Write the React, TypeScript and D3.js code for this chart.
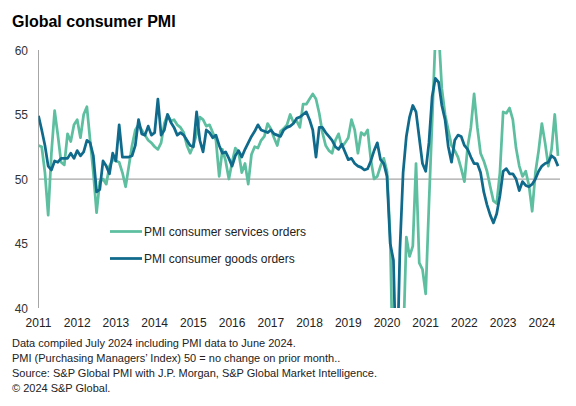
import { useEffect, useRef } from 'react'
import * as d3 from 'd3'

// Monthly readings, Jan 2011 .. Jun 2024 (162 months)
const START_YEAR = 2011
const YEAR_LABELS = ['2011', '2012', '2013', '2014', '2015', '2016', '2017', '2018', '2019', '2020', '2021', '2022', '2023', '2024']
const Y_TICKS = [40, 45, 50, 55, 60]

const SERVICES = [
  52.6, 52.5, 50.5, 47.2, 52.0, 55.3, 53.4, 51.3, 51.1, 53.5, 52.9, 54.2,
  54.6, 53.2, 55.0, 55.6, 53.0, 50.5, 47.4, 49.8, 50.0, 49.6, 51.0, 51.5,
  51.4, 51.3, 50.5, 49.4, 51.0, 52.6, 53.8, 54.2, 53.8, 53.4, 53.0, 52.8,
  52.5, 52.3, 52.8, 54.3, 55.0, 54.5, 54.6, 54.2, 54.0, 53.6, 52.6, 52.0,
  52.6, 53.5, 54.8, 54.6, 54.1, 54.2, 53.6, 53.0, 50.2, 52.3, 51.4, 50.0,
  51.3, 52.4, 52.1, 50.5, 51.2, 49.6, 51.9, 52.5, 52.4, 53.0, 53.3, 54.3,
  53.9, 53.2, 52.6, 53.7, 53.9, 54.2, 55.0, 54.4, 54.5, 54.0, 55.8, 55.8,
  56.2, 56.6, 56.2, 55.1, 53.6, 52.6, 52.2, 52.0, 53.0, 53.5, 52.5, 52.8,
  53.2, 54.6, 53.8, 52.0, 53.6, 53.4, 53.8, 51.5, 50.0, 50.2, 51.0, 51.6,
  50.6, 45.5, 33.0, 25.0, 30.0, 37.0, 45.5, 44.0, 44.8, 51.2, 43.5, 43.0,
  41.1, 48.0, 54.5, 61.0, 61.5, 57.0, 55.0, 53.8, 52.6, 52.2, 51.7, 50.8,
  49.8, 52.5, 54.0, 56.6, 54.0, 52.0, 51.4, 50.6, 49.4, 48.3, 48.1, 50.5,
  55.2, 55.1, 55.5, 54.6, 52.4, 51.0, 50.2, 50.6, 49.5, 47.5, 50.5, 52.2,
  54.3, 52.8, 51.0, 52.3, 55.0, 51.8,
]

const GOODS = [
  54.9, 53.8, 52.6, 51.0, 50.7, 51.4, 51.3, 51.6, 51.6, 51.6, 52.0, 51.6,
  52.2, 51.8, 52.1, 53.0, 52.8, 51.8, 49.0, 49.2, 51.4, 51.0, 50.4, 52.0,
  51.4, 54.2, 51.7, 51.7, 51.7, 51.8, 52.6, 54.6, 53.5, 53.4, 54.1, 53.4,
  53.6, 56.2, 53.4, 53.8, 55.0, 54.4, 54.0, 53.4, 53.6, 53.4, 53.0, 52.6,
  52.5, 55.2, 53.0, 52.1, 53.8, 53.6, 53.2, 53.4, 52.6, 52.0, 52.1, 51.6,
  51.0, 51.8, 52.2, 51.7, 52.3, 52.8, 53.3, 53.7, 54.2, 53.8, 53.7, 53.6,
  53.8, 53.5, 53.4, 53.3, 53.8, 54.0, 54.1, 54.3, 54.7, 54.8, 55.0, 55.2,
  54.6, 53.8, 51.7, 54.0, 54.0, 53.6, 53.3, 53.0, 52.5, 52.3, 52.7, 52.1,
  51.5, 51.6, 51.2, 51.0, 50.9, 50.7, 50.8, 51.4, 52.2, 52.8, 51.5, 51.2,
  50.2, 45.0, 43.7, 34.0, 44.5, 50.5, 53.3, 54.8, 55.7, 55.2, 53.2, 51.2,
  50.6, 52.8, 56.4, 57.8, 57.5, 55.7, 54.6, 52.5, 51.3, 53.0, 53.4, 53.3,
  52.6, 52.3, 51.7, 51.2, 51.2, 50.5, 49.0, 48.0, 47.2, 46.6, 47.3, 48.7,
  50.6, 50.8, 50.4, 50.4, 50.0, 49.1, 49.8, 49.5, 49.4, 49.6, 50.0, 50.6,
  51.0, 51.2, 51.3, 51.8, 51.6, 51.0,
]

const SERIES = [
  { name: 'PMI consumer services orders', values: SERVICES, color: '#5dbf9f' },
  { name: 'PMI consumer goods orders', values: GOODS, color: '#0f6a8b' },
]

const NOTES = [
  'Data compiled July 2024 including PMI data to June 2024.',
  'PMI (Purchasing Managers\u2019 Index) 50 = no change on prior month..',
  'Source: S&P Global PMI with J.P. Morgan, S&P Global Market Intelligence.',
  '\u00a9 2024 S&P Global.',
]

const FONT = "Arial, 'Liberation Sans', sans-serif"

export default function App() {
  const svgRef = useRef<SVGSVGElement>(null)

  useEffect(() => {
    if (!svgRef.current) return
    const svg = d3.select(svgRef.current)
    svg.selectAll('*').remove()

    const W = 576
    const H = 406
    const left = 38.5, right = 558, top = 50, bottom = 308

    const x = d3.scaleLinear().domain([0, SERVICES.length - 1]).range([left, right])
    const y = d3.scaleLinear().domain([40, 60]).range([bottom, top])

    svg.append('rect').attr('width', W).attr('height', H).attr('fill', '#fff')

    // Title
    svg.append('text').attr('x', 12).attr('y', 27)
      .attr('font-family', FONT).attr('font-size', '16px').attr('font-weight', 'bold')
      .attr('fill', '#000').text('Global consumer PMI')

    // Y axis labels + line
    Y_TICKS.forEach((t) => {
      svg.append('text').attr('x', 28).attr('y', y(t) + 4.5)
        .attr('text-anchor', 'end').attr('font-family', FONT).attr('font-size', '12px')
        .attr('fill', '#333').text(t)
    })
    svg.append('line').attr('x1', left).attr('x2', left).attr('y1', top).attr('y2', bottom)
      .attr('stroke', '#a6a6a6').attr('stroke-width', 1)

    // 50 = no change line
    svg.append('line').attr('x1', left).attr('x2', right + 2).attr('y1', y(50)).attr('y2', y(50))
      .attr('stroke', '#a6a6a6').attr('stroke-width', 1.25)

    // Year labels at January of each year
    YEAR_LABELS.forEach((lab) => {
      const m = (+lab - START_YEAR) * 12
      svg.append('text').attr('x', x(m)).attr('y', 327)
        .attr('text-anchor', 'middle').attr('font-family', FONT).attr('font-size', '12px')
        .attr('fill', '#222').text(lab)
    })

    // Lines, clipped to plot range 40..60
    svg.append('clipPath').attr('id', 'plot-clip')
      .append('rect').attr('x', left).attr('y', top).attr('width', right - left + 4).attr('height', bottom - top)

    const line = d3.line<number>().x((_, i) => x(i)).y((d) => y(d))
    const g = svg.append('g').attr('clip-path', 'url(#plot-clip)')
    SERIES.forEach((s) => {
      g.append('path').datum(s.values).attr('d', line)
        .attr('fill', 'none').attr('stroke', s.color).attr('stroke-width', 2.75)
        .attr('stroke-linejoin', 'round')
    })

    // Legend
    SERIES.forEach((s, i) => {
      const ly = 231.5 + i * 27
      svg.append('line').attr('x1', 110).attr('x2', 142).attr('y1', ly).attr('y2', ly)
        .attr('stroke', s.color).attr('stroke-width', 2.75)
      svg.append('text').attr('x', 144).attr('y', ly + 4.5)
        .attr('font-family', FONT).attr('font-size', '12px').attr('fill', '#222').text(s.name)
    })

    // Footnotes
    NOTES.forEach((n, i) => {
      svg.append('text').attr('x', 12).attr('y', 347 + i * 15)
        .attr('font-family', FONT).attr('font-size', '11px').attr('fill', '#222').text(n)
    })
  }, [])

  return (
    <svg ref={svgRef} width={576} height={406}
      style={{ position: 'absolute', left: 0, top: 0, display: 'block' }} />
  )
}
